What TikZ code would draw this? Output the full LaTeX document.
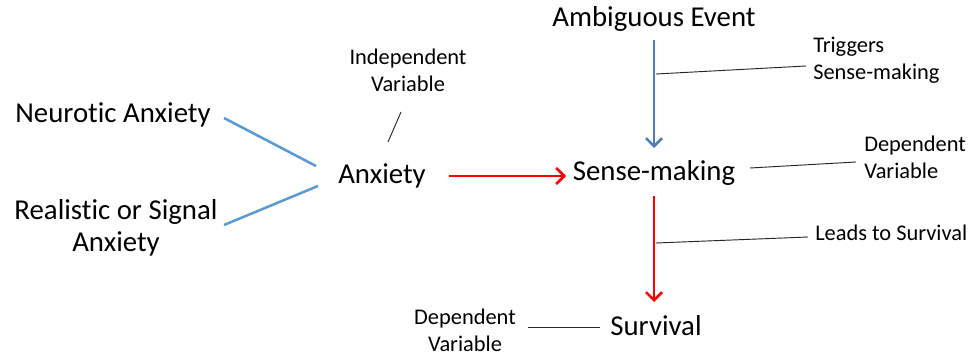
\documentclass[tikz,border=0pt]{standalone}
\usepackage{fontspec}
\setmainfont{Carlito}[Ligatures={NoCommon}]
\usetikzlibrary{arrows.meta}
\begin{document}
\begin{tikzpicture}[x=0.75pt,y=-0.75pt,
  big/.style={font=\fontsize{21.6}{24}\selectfont, inner sep=0pt, align=center},
  small/.style={font=\fontsize{16.8}{20}\selectfont, inner sep=0pt, align=center},
  flowred/.style={draw=red, line width=1.9pt, -{Straight Barb[length=6pt,width=12pt,line width=1.9pt]}},
  flowblue/.style={draw=arrowblue, line width=1.9pt, -{Straight Barb[length=6pt,width=12pt,line width=1.9pt]}},
  feeder/.style={draw=lineblue, line width=1.9pt},
  leader/.style={draw=black!85, line width=0.7pt}]
\definecolor{arrowblue}{HTML}{4A7EBB}
\definecolor{lineblue}{HTML}{5B9BD5}
\useasboundingbox (0,0) rectangle (969,356);

% main concepts
\node[big] (amb) at (654,19) {Ambiguous Event};
\node[big] (neu) at (113,115) {Neurotic Anxiety};
\node[big] (real) at (116,228) {Realistic or Signal\\Anxiety};
\node[big] (anx) at (382,176) {Anxiety};
\node[big] (sense) at (654,173) {Sense-making};
\node[big] (surv) at (656,326) {Survival};

% annotations
\node[small] (indep) at (408,70) {Independent\\Variable};
\node[small, align=left, anchor=west] (trig) at (813,60) {Triggers\\Sense-making};
\node[small, align=left, anchor=west] (dep1) at (864,157) {Dependent\\Variable};
\node[small, anchor=west] (lead) at (815,233) {Leads to Survival};
\node[small] (dep2) at (465,330) {Dependent\\Variable};

% connectors into Anxiety
\coordinate (n1) at (224,118);
\coordinate (n2) at (316,166);
\coordinate (r1) at (224,225);
\coordinate (r2) at (318,186);
\draw[feeder] (n1) -- (n2);
\draw[feeder] (r1) -- (r2);

% causal arrows
\coordinate (a1) at (449,176);
\coordinate (a2) at (566,176);
\draw[flowred] (a1) -- (a2);
\coordinate (b1) at (654,40);
\coordinate (b2) at (654,148);
\draw[flowblue] (b1) -- (b2);
\coordinate (c1) at (654,196);
\coordinate (c2) at (654,302);
\draw[flowred] (c1) -- (c2);

% leader lines
\coordinate (l1a) at (388,142);
\coordinate (l1b) at (401,112);
\draw[leader] (l1a) -- (l1b);
\coordinate (l2a) at (656,74);
\coordinate (l2b) at (806,66);
\draw[leader] (l2a) -- (l2b);
\coordinate (l3a) at (750,168);
\coordinate (l3b) at (856,162);
\draw[leader] (l3a) -- (l3b);
\coordinate (l4a) at (656,243);
\coordinate (l4b) at (808,237);
\draw[leader] (l4a) -- (l4b);
\coordinate (l5a) at (528,327);
\coordinate (l5b) at (600,327);
\draw[leader] (l5a) -- (l5b);
\end{tikzpicture}
\end{document}
